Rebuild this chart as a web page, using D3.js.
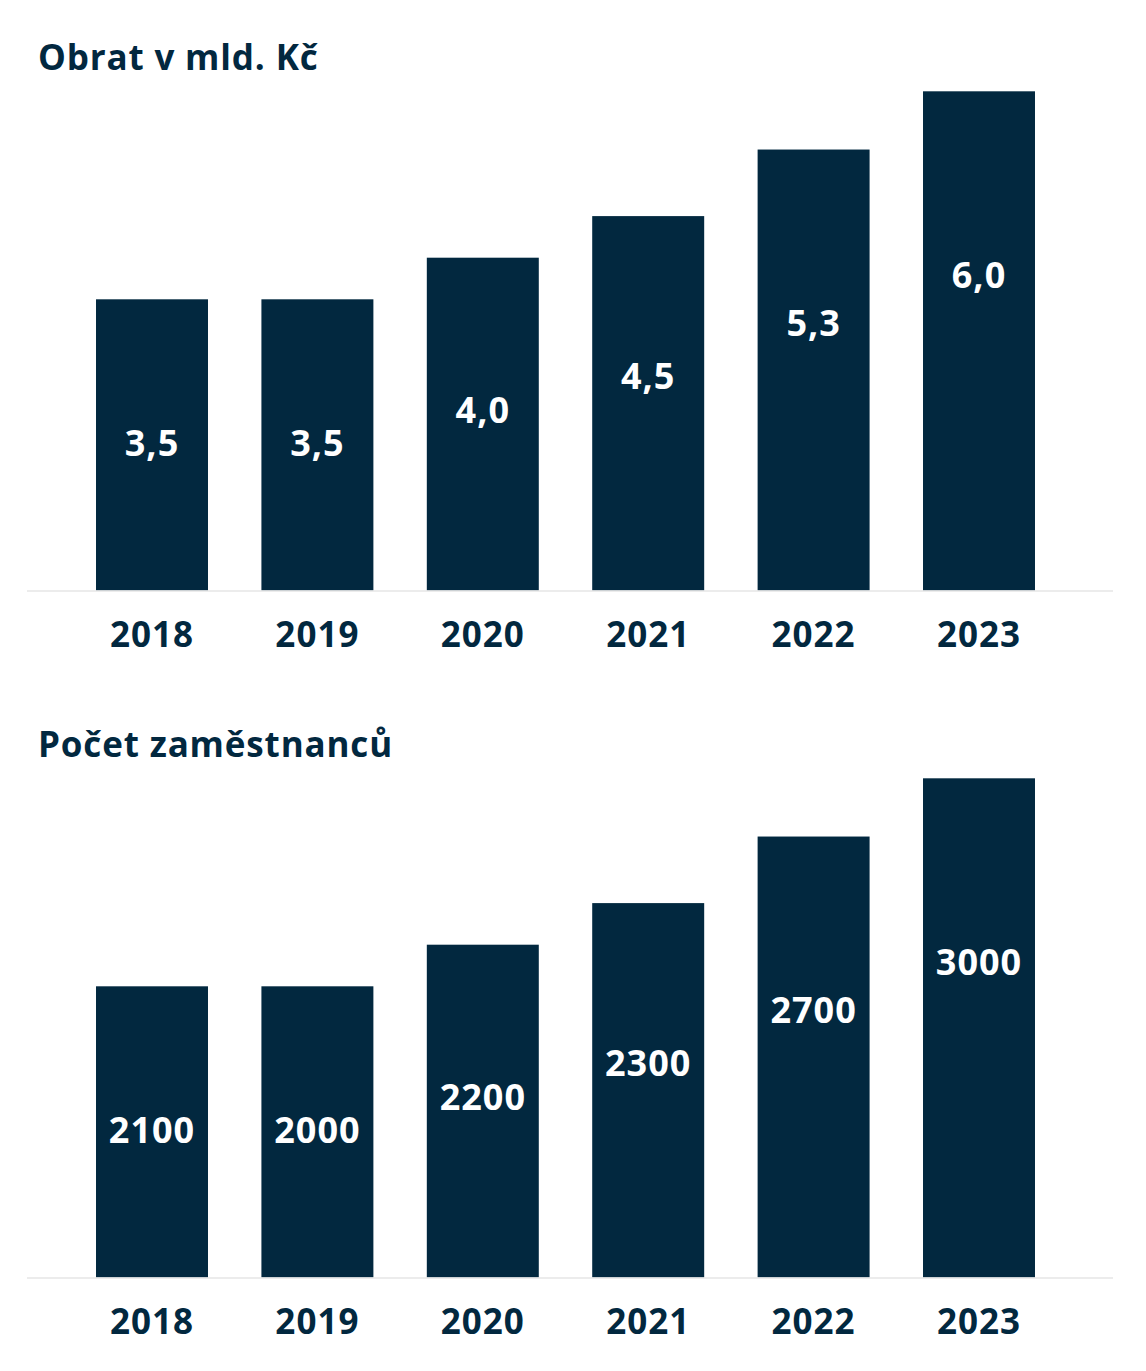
<!DOCTYPE html>
<html lang="cs">
<head>
<meta charset="utf-8">
<script src="https://cdn.jsdelivr.net/npm/d3@7"></script>
<style>
  html, body { margin: 0; padding: 0; background: #ffffff; }
  svg { display: block; font-family: "Open Sans", "Noto Sans", sans-serif; }
</style>
</head>
<body>
<svg id="chart" width="1146" height="1371"></svg>
<script>
// ---- data ----
const years = ["2018", "2019", "2020", "2021", "2022", "2023"];
const revenue = [3.5, 3.5, 4.0, 4.5, 5.3, 6.0];           // Obrat v mld. Kč
const employees = [2100, 2000, 2200, 2300, 2700, 3000];   // Počet zaměstnanců
// In the reference the employee bars reuse the revenue bar heights
const employeeBarLevels = revenue;
const titles = ["Obrat v mld. Kč", "Počet zaměstnanců"];

const fmtRevenue = d => d3.format(".1f")(d).replace(".", ",");
const fmtEmployees = d => String(d);

// ---- layout ----
const colorBar = "#02283f";
const colorText = "#02283f";
const FW = 700;
const panels = [
  { title: titles[0], levels: revenue, values: revenue, fmt: fmtRevenue, baseline: 590.5 },
  { title: titles[1], levels: employeeBarLevels, values: employees, fmt: fmtEmployees, baseline: 1277.5 }
];

const svg = d3.select("#chart");

const x = d3.scaleBand()
  .domain(years)
  .range([69.3, 1061.7])
  .paddingInner(0.323)
  .paddingOuter(0.1615);

panels.forEach(p => {
  const g = svg.append("g");
  const y = d3.scaleLinear().domain([0, 6]).range([p.baseline, p.baseline - 6 * 83.2]);
  // label anchor positions (value -> y)
  const labelY = d3.scaleLinear().domain([3.5, 6]).range([p.baseline - 147, p.baseline - 315]);

  // title
  g.append("text")
    .attr("x", 38)
    .attr("y", p.baseline - 520.5)
    .attr("fill", colorText)
    .attr("font-size", 35)
    .attr("font-weight", FW)
    .attr("letter-spacing", 0.85)
    .text(p.title);

  const rows = years.map((yr, i) => ({ yr, level: p.levels[i], value: p.values[i] }));

  // bars
  g.selectAll("rect.bar")
    .data(rows)
    .join("rect")
    .attr("class", "bar")
    .attr("x", d => x(d.yr))
    .attr("width", x.bandwidth())
    .attr("y", d => y(d.level))
    .attr("height", d => y(0) - y(d.level))
    .attr("fill", colorBar);

  // baseline
  g.append("line")
    .attr("x1", 27).attr("x2", 1113)
    .attr("y1", p.baseline + 0.5).attr("y2", p.baseline + 0.5)
    .attr("stroke", "#e6e6e6")
    .attr("stroke-width", 1.5);

  // value labels
  g.selectAll("text.val")
    .data(rows)
    .join("text")
    .attr("class", "val")
    .attr("x", d => x(d.yr) + x.bandwidth() / 2)
    .attr("y", d => labelY(d.level))
    .attr("dy", "0.36em")
    .attr("text-anchor", "middle")
    .attr("fill", "#ffffff")
    .attr("font-size", 36)
    .attr("font-weight", FW)
    .attr("letter-spacing", 1)
    .text(d => p.fmt(d.value));

  // x axis labels
  const axis = d3.axisBottom(x).tickSize(0).tickPadding(0);
  const ax = g.append("g")
    .attr("transform", `translate(0,${p.baseline})`)
    .call(axis);
  ax.select(".domain").remove();
  ax.selectAll("text")
    .attr("y", 56)
    .attr("dy", 0)
    .attr("fill", colorText)
    .attr("font-size", 35)
    .attr("font-weight", FW)
    .attr("letter-spacing", 1)
    .attr("font-family", "'Open Sans', 'Noto Sans', sans-serif");
});
</script>
</body>
</html>
